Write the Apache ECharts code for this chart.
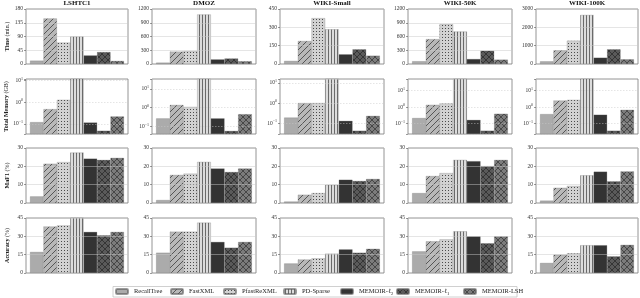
<!DOCTYPE html>
<html><head><meta charset="utf-8">
<script src="https://cdn.jsdelivr.net/npm/echarts@6/dist/echarts.min.js"></script>
<style>html,body{margin:0;padding:0;background:#fff}#c{width:640px;height:298px}</style>
</head><body><div id="c"></div>
<script>
const datasets = ['LSHTC1', 'DMOZ', 'WIKI-Small', 'WIKI-50K', 'WIKI-100K'];
const methods = ['RecallTree', 'FastXML', 'PfastReXML', 'PD-Sparse', 'MEMOIR-ℓ2', 'MEMOIR-ℓ1', 'MEMOIR-LSH'];

// values per dataset, in method order
const timeVals = [
  [11, 149, 70, 90, 28, 39, 10],
  [30, 270, 280, 1080, 100, 120, 60],
  [25, 188, 375, 284, 79, 120, 68],
  [60, 542, 867, 708, 108, 289, 95],
  [145, 745, 1273, 2673, 345, 800, 255]
];
const memVals = [
  [0.12, 0.48, 1.3, 30, 0.115, 0.048, 0.22],
  [0.27, 1.4, 1.1, 60, 0.27, 0.058, 0.45],
  [0.19, 1.0, 1.0, 30, 0.13, 0.042, 0.23],
  [0.22, 1.38, 1.66, 100, 0.17, 0.038, 0.4],
  [0.38, 2.5, 2.75, 100, 0.35, 0.038, 0.69]
];
const f1Vals = [
  [3.6, 21.4, 22.3, 27.5, 24.2, 23.5, 24.6],
  [1.6, 15.3, 16.0, 22.4, 18.8, 16.9, 18.8],
  [0.8, 4.5, 5.4, 9.9, 12.7, 12.0, 13.1],
  [5.4, 14.7, 16.3, 23.5, 22.8, 20.1, 23.5],
  [1.3, 8.3, 9.3, 15.1, 17.1, 11.8, 17.2]
];
const accVals = [
  [17.2, 38.0, 38.9, 46, 33.6, 30.8, 33.6],
  [16.6, 33.8, 33.8, 41.2, 25.4, 20.7, 25.4],
  [7.8, 11.0, 12.0, 15.8, 19.3, 16.6, 19.8],
  [17.7, 25.9, 27.5, 34.1, 30.0, 24.3, 30.0],
  [8.2, 15.0, 16.1, 22.7, 22.7, 13.6, 23.0]
];

// axis scales
const timeMax = [180, 1200, 450, 1200, 3000];
const timeInterval = [45, 300, 150, 300, 1000];
const memMinExp = [-1.47, -1.40, -1.54, -1.62, -1.62];
const memMaxExp = [1.08, 1.53, 1.2, 1.7, 1.7];
const f1Max = 30, f1Interval = 10;
const accMax = 45, accInterval = 15;

const rowNames = ['{b|Time} (min.)', '{b|Total Memory} (GB)', '{b|MaF1} (%)', '{b|Accuracy} (%)'];

// layout
const colLeft = [26, 152, 280, 408, 536];
const colWidth = [102, 104, 104, 104, 102];
const rowTop = [9, 79, 148, 218];
const rowHeight = 55;
const FONT = "'Liberation Serif', 'DejaVu Serif', serif";

function makePattern(w, h, bg, draw) {
  const c = document.createElement('canvas');
  c.width = w; c.height = h;
  const ctx = c.getContext('2d');
  ctx.fillStyle = bg; ctx.fillRect(0, 0, w, h);
  draw(ctx, w, h);
  return { image: c, repeat: 'repeat' };
}
function diag(ctx, s, back) {
  ctx.beginPath();
  ctx.moveTo(-1, s + 1); ctx.lineTo(s + 1, -1);
  ctx.moveTo(-1, 1); ctx.lineTo(1, -1);
  ctx.moveTo(s - 1, s + 1); ctx.lineTo(s + 1, s - 1);
  if (back) {
    ctx.moveTo(-1, -1); ctx.lineTo(s + 1, s + 1);
    ctx.moveTo(s - 1, -1); ctx.lineTo(s + 1, 1);
    ctx.moveTo(-1, s - 1); ctx.lineTo(1, s + 1);
  }
  ctx.stroke();
}
const styles = [
  { color: '#ababab' },
  { color: makePattern(6, 6, '#b8b8b8', (ctx, s) => { ctx.strokeStyle = '#3c3c3c'; ctx.lineWidth = 0.8; diag(ctx, s, false); }) },
  { color: makePattern(3, 3, '#d2d2d2', (ctx) => { ctx.fillStyle = '#4a4a4a'; ctx.fillRect(1, 1, 1, 1); }) },
  { color: makePattern(3, 3, '#dcdcdc', (ctx) => { ctx.fillStyle = '#6a6a6a'; ctx.fillRect(1, 0, 1, 3); }) },
  { color: '#333333' },
  { color: makePattern(6, 6, '#5a5a5a', (ctx, s) => { ctx.strokeStyle = '#2c2c2c'; ctx.lineWidth = 0.8; diag(ctx, s, true); }) },
  { color: makePattern(6, 6, '#7c7c7c', (ctx, s) => { ctx.strokeStyle = '#3a3a3a'; ctx.lineWidth = 0.8; diag(ctx, s, true); }) }
];

function supFmt(v) {
  const e = Math.log10(v);
  if (Math.abs(e - Math.round(e)) > 1e-6) return '';
  const r = Math.round(e);
  return '10{sup|' + (r < 0 ? '−' + (-r) : r) + '}';
}

const grids = [], xAxes = [], yAxes = [], series = [];
const rows = [timeVals, memVals, f1Vals, accVals];
for (let r = 0; r < 4; r++) {
  for (let c = 0; c < 5; c++) {
    const g = grids.length;
    grids.push({ left: colLeft[c], top: rowTop[r], width: colWidth[c], height: rowHeight,
      show: true, borderColor: '#7a7a7a', borderWidth: 0.8, backgroundColor: 'transparent' });
    xAxes.push({ type: 'category', gridIndex: g, data: [''], show: false });
    const common = {
      gridIndex: g, z: 5,
      axisLine: { show: false },
      axisTick: { show: true, length: 2, lineStyle: { color: '#555', width: 0.6 } },
      axisLabel: { fontSize: 5.5, margin: 3, color: '#333', fontFamily: FONT },
      splitLine: { show: true, lineStyle: { color: 'rgba(200,200,200,0.8)', width: 0.6 } }
    };
    if (c === 0) {
      common.name = rowNames[r];
      common.nameLocation = 'middle';
      common.nameGap = 16;
      common.nameTextStyle = { fontSize: 6, color: '#222', fontFamily: FONT, rich: { b: { fontSize: 6, fontWeight: 'bold', fontFamily: FONT, color: '#222' } } };
    }
    let y;
    if (r === 0) {
      y = Object.assign({ type: 'value', min: 0, max: timeMax[c], interval: timeInterval[c] }, common);
      y.axisLabel.formatter = v => String(v);
    } else if (r === 1) {
      const mn = Math.pow(10, memMinExp[c]);
      y = Object.assign({ type: 'log', logBase: 10, min: mn, max: Math.pow(10, memMaxExp[c]), startValue: mn }, common);
      y.axisLabel.formatter = supFmt;
      y.axisLabel.rich = { sup: { fontSize: 4, fontFamily: FONT, color: '#333', verticalAlign: 'bottom', padding: [0, 0, 4, 0] } };
      y.splitLine.lineStyle.type = [1.5, 1.5];
    } else if (r === 2) {
      y = Object.assign({ type: 'value', min: 0, max: f1Max, interval: f1Interval }, common);
      y.axisLabel.formatter = v => String(v);
    } else {
      y = Object.assign({ type: 'value', min: 0, max: accMax, interval: accInterval }, common);
      y.axisLabel.formatter = v => String(v);
    }
    yAxes.push(y);
    for (let m = 0; m < 7; m++) {
      series.push({
        type: 'bar', name: methods[m], xAxisIndex: g, yAxisIndex: g,
        data: [rows[r][c][m]], barGap: '0%', barCategoryGap: '8%',
        itemStyle: Object.assign({ borderColor: 'rgba(90,90,90,0.6)', borderWidth: 0.4 }, styles[m]),
        clip: true, silent: true, animation: false
      });
    }
  }
}

const legendLeft = [115, 170, 223, 283, 340, 396, 463];
const legends = methods.map((m, i) => ({
  data: [m], left: legendLeft[i], top: 288, padding: 0, itemWidth: 12, itemHeight: 5, itemGap: 4,
  selectedMode: false,
  formatter: n => n.replace(/ℓ(\d)/, 'ℓ{sub|$1}'),
  textStyle: { fontSize: 6.5, color: '#222', fontFamily: FONT, padding: [0, 0, 0, 1],
    rich: { sub: { fontSize: 4.5, fontFamily: FONT, color: '#222', verticalAlign: 'top', padding: [4, 0, 0, 0] } } }
}));

const graphics = datasets.map((d, c) => ({
  type: 'text', x: colLeft[c] + colWidth[c] / 2, y: 0,
  style: { text: d, fontSize: 7, fontWeight: 'bold', fontFamily: FONT, fill: '#111', textAlign: 'center', textVerticalAlign: 'top' }
}));
graphics.push({ type: 'rect', shape: { x: 113, y: 286.5, width: 404, height: 10.5 },
  style: { fill: 'none', stroke: '#c4c4c4', lineWidth: 0.8 } });

const chart = echarts.init(document.getElementById('c'), null, { renderer: 'canvas' });
chart.setOption({
  animation: false,
  backgroundColor: '#fff',
  grid: grids, xAxis: xAxes, yAxis: yAxes, series: series,
  legend: legends, graphic: graphics
});
</script></body></html>
